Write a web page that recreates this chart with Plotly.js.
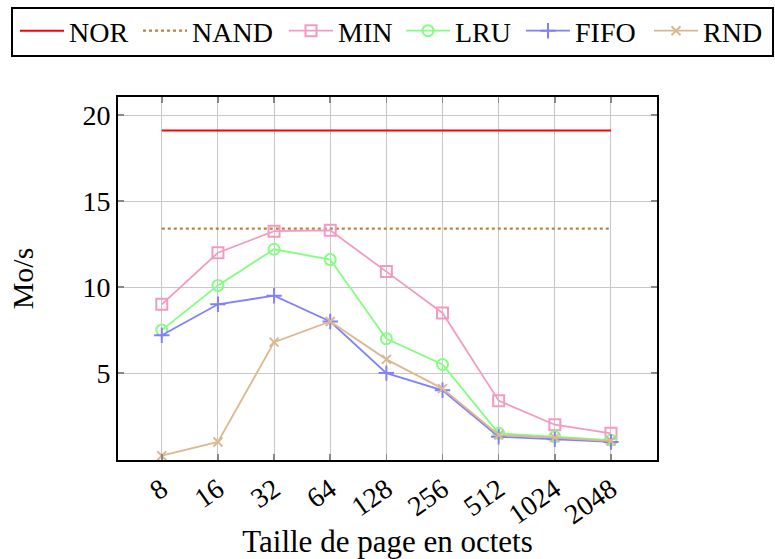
<!DOCTYPE html>
<html>
<head>
<meta charset="utf-8">
<script src="https://cdn.plot.ly/plotly-3.0.1.min.js"></script>
<style>html,body{margin:0;padding:0;background:#fff;}#chart{width:775px;height:559px;}</style>
</head>
<body>
<div id="chart"></div>
<script>
const categories = ["8", "16", "32", "64", "128", "256", "512", "1024", "2048"];
const seriesNames = ["NOR", "NAND", "MIN", "LRU", "FIFO", "RND"];
const norValues = [19.1, 19.1, 19.1, 19.1, 19.1, 19.1, 19.1, 19.1, 19.1];
const nandValues = [13.4, 13.4, 13.4, 13.4, 13.4, 13.4, 13.4, 13.4, 13.4];
const minValues = [9.0, 12.0, 13.25, 13.3, 10.9, 8.5, 3.4, 2.0, 1.5];
const lruValues = [7.5, 10.1, 12.2, 11.6, 7.0, 5.5, 1.5, 1.3, 1.1];
const fifoValues = [7.2, 9.0, 9.5, 8.0, 5.0, 4.0, 1.3, 1.15, 1.0];
const rndValues = [0.2, 1.0, 6.8, 8.0, 5.8, 4.1, 1.4, 1.25, 1.05];
const yTicks = [5, 10, 15, 20];

const font = "'Liberation Serif', serif";

// plot area in pixels (for placing the legend row above it)
const plotL = 118, plotT = 97, plotW = 539, plotH = 363;
const px2x = p => (p - plotL) / plotW;
const px2y = p => 1 + (plotT - p) / plotH;
const legendLeft = [15, 138, 284, 401, 521, 649];

const traces = [
  {name: seriesNames[0], x: categories, y: norValues, mode: "lines", line: {color: "#ff0000", width: 2}},
  {name: seriesNames[1], x: categories, y: nandValues, mode: "lines", line: {color: "#bf8040", width: 2.2, dash: "dot"}},
  {name: seriesNames[2], x: categories, y: minValues, mode: "lines+markers", line: {color: "#f39ac3", width: 1.8},
   marker: {symbol: "square-open", size: 11, color: "#f39ac3", line: {width: 2}}},
  {name: seriesNames[3], x: categories, y: lruValues, mode: "lines+markers", line: {color: "#80ff80", width: 1.8},
   marker: {symbol: "circle-open", size: 11, color: "#80ff80", line: {width: 2}}},
  {name: seriesNames[4], x: categories, y: fifoValues, mode: "lines+markers", line: {color: "#8080ff", width: 1.8},
   marker: {symbol: "cross-thin-open", size: 11, color: "#8080ff", line: {width: 2, color: "#8080ff"}}},
  {name: seriesNames[5], x: categories, y: rndValues, mode: "lines+markers", line: {color: "#dcb890", width: 1.8},
   marker: {symbol: "x-thin-open", size: 9, color: "#dcb890", line: {width: 2, color: "#dcb890"}}}
];

const layout = {
  width: 775, height: 559,
  margin: {l: 118, r: 118, t: 97, b: 99, autoexpand: false},
  paper_bgcolor: "#ffffff", plot_bgcolor: "#ffffff",
  font: {family: font, size: 28, color: "#000"},
  showlegend: true,
  shapes: [{type: "rect", xref: "paper", yref: "paper",
            x0: px2x(12), x1: px2x(773), y0: px2y(56), y1: px2y(8),
            line: {color: "#000", width: 2}, fillcolor: "rgba(0,0,0,0)"}],
  xaxis: {
    type: "category", range: [-0.78, 8.82],
    tickangle: -35, tickfont: {family: font, size: 28},
    showgrid: true, gridcolor: "#c8c8c8", gridwidth: 1,
    ticks: "inside", ticklen: 6, tickcolor: "#888", tickwidth: 1.5,
    showline: true, linecolor: "#000", linewidth: 2, mirror: "ticks",
    zeroline: false,
    title: {text: "Taille de page en octets", font: {family: font, size: 31}, standoff: 7}
  },
  yaxis: {
    range: [-0.05, 21.05], tickvals: yTicks, ticktext: yTicks.map(String),
    tickfont: {family: font, size: 28},
    showgrid: true, gridcolor: "#c8c8c8", gridwidth: 1,
    ticks: "inside", ticklen: 6, tickcolor: "#888", tickwidth: 1.5,
    showline: true, linecolor: "#000", linewidth: 2, mirror: "ticks",
    zeroline: false,
    title: {text: "Mo/s", font: {family: font, size: 30}, standoff: 40}
  }
};

traces.forEach((t, i) => {
  const key = i === 0 ? "legend" : "legend" + (i + 1);
  t.legend = key;
  layout[key] = {
    orientation: "h", x: px2x(legendLeft[i]), y: px2y(31), xanchor: "left", yanchor: "middle",
    borderwidth: 0, bgcolor: "rgba(0,0,0,0)", font: {family: font, size: 28, color: "#000"},
    itemwidth: 44
  };
});

Plotly.newPlot("chart", traces, layout, {displayModeBar: false, staticPlot: true});
</script>
</body>
</html>
